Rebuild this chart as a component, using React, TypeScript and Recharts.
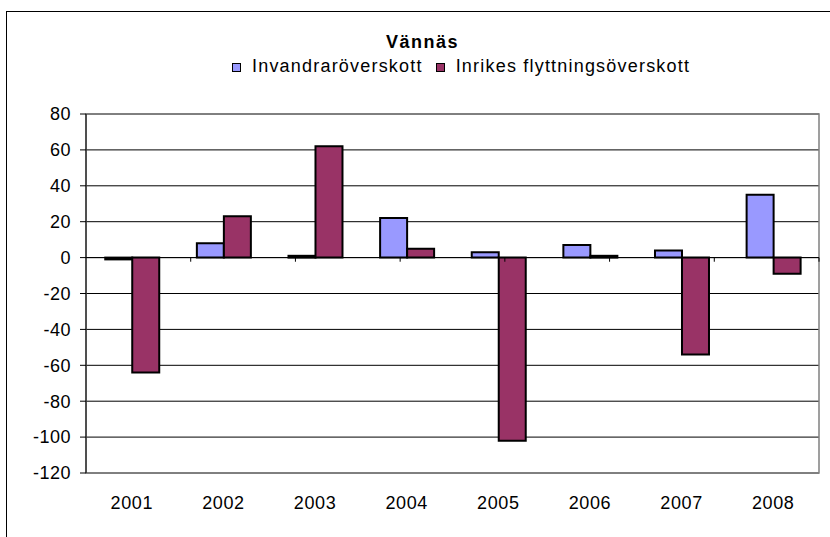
import { Bar, BarChart, CartesianGrid, ReferenceArea, ReferenceLine, XAxis, YAxis } from 'recharts';

const years = ['2001', '2002', '2003', '2004', '2005', '2006', '2007', '2008'];
const invandrar = [-1, 8, 1, 22, 3, 7, 4, 35];
const inrikes = [-64, 23, 62, 5, -102, 1, -54, -9];
const yTicks = [-120, -100, -80, -60, -40, -20, 0, 20, 40, 60, 80];
const boundaries = [1, 2, 3, 4, 5, 6, 7];

const INV_COLOR = '#9999FF';
const INR_COLOR = '#993366';
const FONT = '"Liberation Sans", Arial, sans-serif';

const data = years.map((year, i) => ({ year, inv: invandrar[i], inr: inrikes[i] }));

function LegendItem({ color, label }: { color: string; label: string }) {
  return (
    <div style={{ display: 'flex', alignItems: 'center', marginRight: 13 }}>
      <span style={{ width: 7, height: 7, background: color, border: '1px solid #000', marginRight: 11, marginTop: 3 }} />
      <span>{label}</span>
    </div>
  );
}

export default function App() {
  return (
    <div style={{ position: 'relative', width: 830, height: 537, overflow: 'hidden', background: '#fff', fontFamily: FONT }}>
      <style>{'body{margin:0}'}</style>
      <div style={{ position: 'absolute', left: 6, top: 11, width: 900, height: 700, border: '1px solid #000' }} />
      <BarChart
        width={830}
        height={537}
        data={data}
        margin={{ top: 114, right: 11, bottom: 24, left: 0 }}
        barCategoryGap="21%"
        barGap={0}
        style={{ position: 'absolute', left: 0, top: 0 }}
      >
        <CartesianGrid vertical={false} stroke="#000" />
        <ReferenceArea y1={-120} y2={80} fill="none" stroke="#808080" strokeWidth={1.5} />
        <XAxis
          dataKey="year"
          height={40}
          axisLine={false}
          tickLine={false}
          tickMargin={17}
          tick={{ fill: '#000', fontSize: 18, fontFamily: FONT, letterSpacing: 0.6 }}
        />
        <XAxis xAxisId="b" type="number" domain={[0, 8]} hide />
        <YAxis
          width={86}
          domain={[-120, 80]}
          ticks={yTicks}
          interval={0}
          axisLine={{ stroke: '#000' }}
          tickLine={{ stroke: '#000' }}
          tickSize={6}
          tickMargin={9}
          tick={{ fill: '#000', fontSize: 18, fontFamily: FONT, letterSpacing: 0.5 }}
        />
        <ReferenceLine y={0} stroke="#000" />
        {boundaries.map((b) => (
          <ReferenceLine key={b} xAxisId="b" segment={[{ x: b, y: 0 }, { x: b, y: -2.3 }]} stroke="#000" />
        ))}
        <Bar dataKey="inv" name="Invandraröverskott" fill={INV_COLOR} stroke="#000" strokeWidth={2} isAnimationActive={false} />
        <Bar dataKey="inr" name="Inrikes flyttningsöverskott" fill={INR_COLOR} stroke="#000" strokeWidth={2} isAnimationActive={false} />
      </BarChart>
      <div
        style={{
          position: 'absolute',
          left: 0,
          width: 845,
          top: 33,
          textAlign: 'center',
          fontSize: 18,
          lineHeight: '18px',
          fontWeight: 'bold',
          letterSpacing: 1.5,
        }}
      >
        Vännäs
      </div>
      <div
        style={{
          position: 'absolute',
          left: 232,
          top: 56.5,
          display: 'flex',
          fontSize: 18,
          lineHeight: '18px',
          letterSpacing: 1.2,
        }}
      >
        <LegendItem color={INV_COLOR} label="Invandraröverskott" />
        <LegendItem color={INR_COLOR} label="Inrikes flyttningsöverskott" />
      </div>
    </div>
  );
}
